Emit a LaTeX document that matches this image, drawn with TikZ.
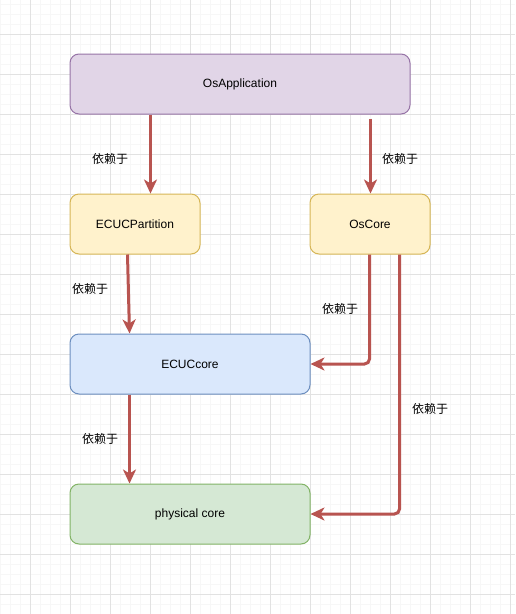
\documentclass[tikz,border=0pt]{standalone}
\usepackage{fontspec}
\setmainfont{Liberation Sans}
\newfontfamily\cjk{Noto Sans CJK SC}
\usetikzlibrary{arrows.meta}
\definecolor{purpfill}{HTML}{E1D5E7}
\definecolor{purpline}{HTML}{9673A6}
\definecolor{yelfill}{HTML}{FFF2CC}
\definecolor{yelline}{HTML}{D6B656}
\definecolor{bluefill}{HTML}{DAE8FC}
\definecolor{blueline}{HTML}{6C8EBF}
\definecolor{grnfill}{HTML}{D5E8D4}
\definecolor{grnline}{HTML}{82B366}
\definecolor{arrowred}{HTML}{B85450}
\definecolor{gridminor}{HTML}{F7F7F7}
\definecolor{gridmajor}{HTML}{E2E2E2}
\begin{document}
\begin{tikzpicture}[x=1pt,y=-1pt,
  box/.style={draw, line width=1pt, rounded corners=9pt, inner sep=0pt, font=\fontsize{12}{14}\selectfont},
  dep/.style={draw=arrowred, line width=3pt, -{Stealth[length=14pt,width=13pt,inset=4pt]}},
  lbl/.style={font=\cjk\fontsize{12}{14}\selectfont, inner sep=0pt}]
\fill[white] (0,0) rectangle (515,614);
\useasboundingbox (0,0) rectangle (515,614);
\foreach \x in {0,10,...,510} \draw[gridminor, line width=0.8pt] (\x,0) -- (\x,614);
\foreach \y in {4,14,...,614} \draw[gridminor, line width=0.8pt] (0,\y) -- (515,\y);
\foreach \x in {30,70,...,510} \draw[gridmajor, line width=1pt] (\x,0) -- (\x,614);
\foreach \y in {34,74,...,614} \draw[gridmajor, line width=1pt] (0,\y) -- (515,\y);

\node[box, fill=purpfill, draw=purpline, minimum width=340pt, minimum height=60pt] (osapp) at (240,84) {OsApplication};
\node[box, fill=yelfill, draw=yelline, minimum width=130pt, minimum height=60pt] (part) at (135,224) {ECUCPartition};
\node[box, fill=yelfill, draw=yelline, minimum width=120pt, minimum height=60pt] (oscore) at (370,224) {OsCore};
\node[box, fill=bluefill, draw=blueline, minimum width=240pt, minimum height=60pt] (ecuc) at (190,364) {ECUCcore};
\node[box, fill=grnfill, draw=grnline, minimum width=240pt, minimum height=60pt] (phys) at (190,514) {physical core};

\draw[dep] ([xshift=81pt]osapp.south west) -- ([xshift=81pt]part.north west);
\draw[dep] ([xshift=301pt,yshift=-4pt]osapp.south west) -- ([xshift=61pt]oscore.north west);
\draw[dep] ([xshift=58pt]part.south west) -- ([xshift=60pt]ecuc.north west);
\draw[dep, rounded corners=5pt] ([xshift=60pt]oscore.south west) |- (ecuc.east);
\draw[dep, rounded corners=5pt] ([xshift=90pt]oscore.south west) |- (phys.east);
\draw[dep] ([xshift=60pt]ecuc.south west) -- ([xshift=60pt]phys.north west);

\node[lbl] (l1) at (110,159) {依赖于};
\node[lbl] (l2) at (400,159) {依赖于};
\node[lbl] (l3) at (90,289) {依赖于};
\node[lbl] (l4) at (340,309) {依赖于};
\node[lbl] (l5) at (430,409) {依赖于};
\node[lbl] (l6) at (100,439) {依赖于};
\end{tikzpicture}
\end{document}
